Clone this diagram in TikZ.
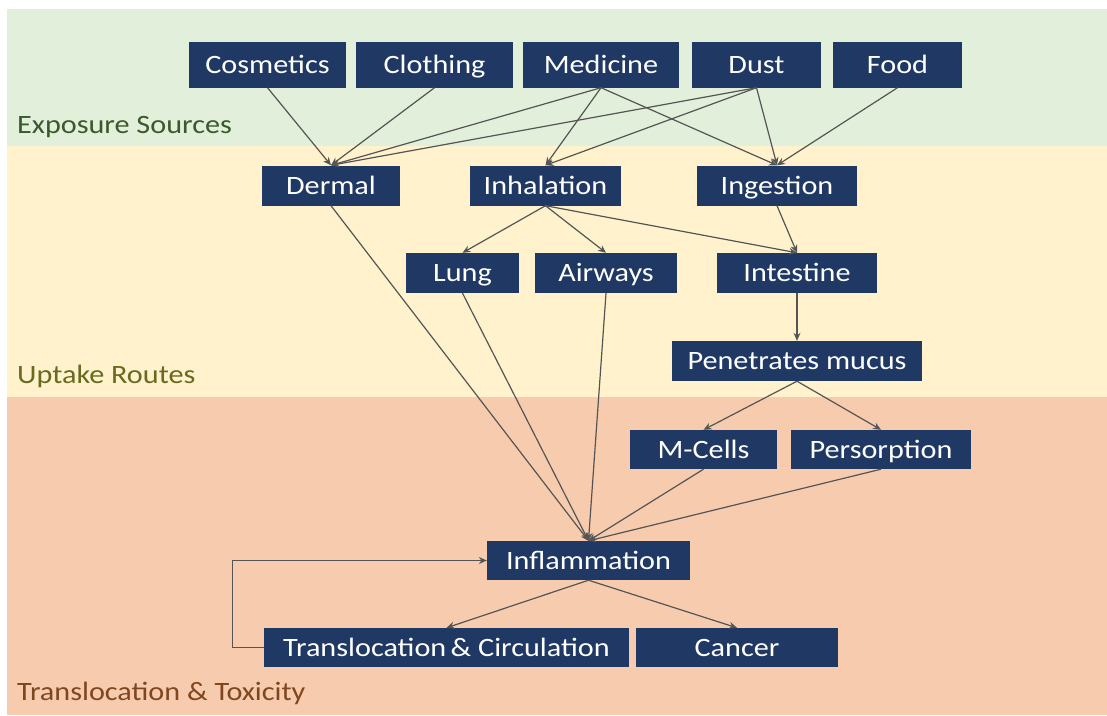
\documentclass[tikz,border=0pt]{standalone}
\usepackage{fontspec}
\setmainfont{Carlito}[FakeStretch=1.14]
\usetikzlibrary{arrows.meta}

\definecolor{boxblue}{HTML}{1F3864}
\definecolor{linkgrey}{HTML}{555555}
\definecolor{bandgreen}{HTML}{E2EFDA}
\definecolor{bandyellow}{HTML}{FFF2CC}
\definecolor{bandorange}{HTML}{F7CBAD}
\definecolor{labgreen}{HTML}{3A5A2C}
\definecolor{labolive}{HTML}{6A6A1F}
\definecolor{labbrown}{HTML}{80461F}

\begin{document}
\begin{tikzpicture}[x=1pt,y=-1pt,
	box/.style={fill=boxblue,text=white,inner sep=0pt,minimum height=40pt,
		text height=17pt,text depth=0pt,font=\fontsize{26.5}{30}\selectfont},
	band label/.style={anchor=base west,inner sep=0pt,font=\fontsize{26.5}{30}\selectfont},
	link/.style={draw=linkgrey,line width=1.2pt,-{Stealth[length=8pt,width=7pt]}}]
	\useasboundingbox (0,0) rectangle (1107,715);
	\fill[white] (0,0) rectangle (1107,715);
	\fill[bandgreen] (7,9) rectangle (1107,146);
	\fill[bandyellow] (7,146) rectangle (1107,397);
	\fill[bandorange] (7,397) rectangle (1107,715);
	\node [band label, text=labgreen] (expo) at (17,133) {Exposure Sources};
	\node [band label, text=labolive] (uptake) at (17,383) {Uptake Routes};
	\node [band label, text=labbrown] (toxic) at (17,700) {Translocation \& Toxicity};
	% sources
	\foreach \n/\x/\w/\t in {cos/267.5/157/Cosmetics, clo/434.5/157/Clothing,
		med/601/156/Medicine, dust/756.5/129/Dust, food/897.5/129/Food}
		\node [box, minimum width=\w pt, minimum height=46pt] (\n) at (\x,64.5) {\t};
	% routes
	\foreach \n/\x/\w/\t in {derm/331/138/Dermal, inh/545.5/151/Inhalation, ing/777/160/Ingestion}
		\node [box, minimum width=\w pt] (\n) at (\x,185.5) {\t};
	\foreach \n/\x/\w/\t in {lung/462.5/113/Lung, air/606/142/Airways, intes/797/160/Intestine}
		\node [box, minimum width=\w pt] (\n) at (\x,273) {\t};
	\node [box, minimum width=250pt] (pen) at (797,361) {Penetrates mucus};
	% toxicity
	\foreach \n/\x/\w/\t in {mcell/703.5/147/M-Cells, pers/881/180/Persorption}
		\node [box, minimum width=\w pt, minimum height=39pt] (\n) at (\x,449.5) {\t};
	\node [box, minimum width=203pt, minimum height=39pt] (infl) at (588.5,560.5) {Inflammation};
	\foreach \n/\x/\w/\t in {trans/446.5/365/Translocation\,\& Circulation, canc/737/202/Cancer}
		\node [box, minimum width=\w pt, minimum height=39pt] (\n) at (\x,647.5) {\t};
	% links
	\foreach \a/\b in {cos/derm, clo/derm, med/derm, med/inh, med/ing, dust/derm,
		dust/inh, dust/ing, food/ing, inh/lung, inh/air, inh/intes, ing/intes,
		intes/pen, pen/mcell, pen/pers, derm/infl, lung/infl, air/infl,
		mcell/infl, pers/infl, infl/trans, infl/canc}
		\draw [link] (\a.south) -- (\b.north);
	\draw [link] (trans.west) -- ++(-31,0) |- (infl.west);
\end{tikzpicture}
\end{document}
